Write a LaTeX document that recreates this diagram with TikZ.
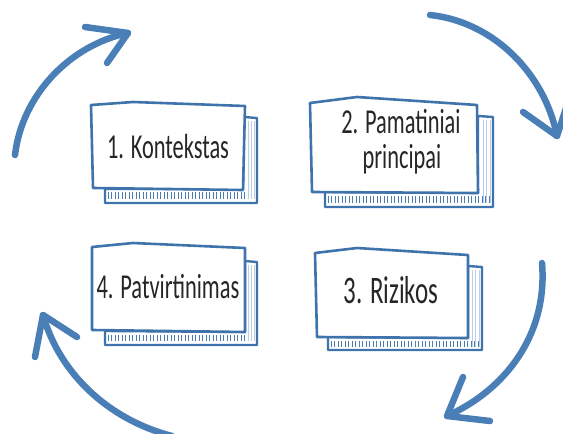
\documentclass[tikz,border=0pt]{standalone}
\usepackage{fontspec}
\newfontfamily\cardfont{Carlito}[FakeStretch=0.64]
\definecolor{cardblue}{HTML}{3F73AC}
\definecolor{arrowblue}{HTML}{4A7EB6}
\definecolor{hatchblue}{HTML}{4C7BB2}
\definecolor{pageblue}{HTML}{B9CFE6}
\tikzset{
  frontcard/.style={draw=cardblue, line width=2.6pt, fill=white, line join=round},
  backcard/.style={draw=cardblue, line width=2.4pt, fill=white, line join=round},
  hatchtick/.style={draw=hatchblue, line width=1pt},
  pageline/.style={draw=pageblue, line width=0.8pt},
  cycarrow/.style={draw=arrowblue, line width=6.5pt, line cap=round, line join=round},
  cardtext/.style={font=\cardfont\fontsize{35}{36}\selectfont, text=black!85, align=center, inner sep=0pt},
  bigtext/.style={font=\cardfont\fontsize{39}{40}\selectfont, text=black!85, align=center, inner sep=0pt},
}
\begin{document}
\begin{tikzpicture}[x=1pt,y=-1pt]
\useasboundingbox (0,0) rectangle (563,434);

% ---------- card 1 ----------
\draw[backcard] (105,189) -- (105,203) -- (257,203) -- (257,118) -- (244,117) -- (243,189) -- cycle;
\foreach \x in {108,111.5,...,254} \draw[hatchtick] (\x,192) -- (\x,199);
\foreach \x in {248,251,254} \draw[pageline] (\x,121) -- (\x,199);
\draw[frontcard] (91,105) -- (133,102) -- (245,106) -- (243,190) -- (93,188) -- cycle;
\node[cardtext, anchor=base] (k1) at (168,158) {1. Kontekstas};

% ---------- card 2 ----------
\draw[backcard] (325,192) -- (325,207) -- (493,207) -- (493,117) -- (478,116) -- (478,193) -- cycle;
\foreach \x in {328,331.5,...,490} \draw[hatchtick] (\x,196) -- (\x,203);
\foreach \x in {483,486.5,490} \draw[pageline] (\x,120) -- (\x,203);
\draw[frontcard] (310,103) -- (357,97) -- (477,105) -- (478,193) -- (312,192) -- cycle;
\node[cardtext, anchor=base] (k2a) at (401,133) {2. Pamatiniai};
\node[cardtext, anchor=base] (k2b) at (402,168) {principai};

% ---------- card 3 ----------
\draw[backcard] (328,337) -- (328,350) -- (482,350) -- (482,267) -- (468,266) -- (468,338) -- cycle;
\foreach \x in {331,334.5,...,479} \draw[hatchtick] (\x,341) -- (\x,347);
\foreach \x in {472,475.5,479} \draw[pageline] (\x,270) -- (\x,347);
\draw[frontcard] (315,253) -- (357,248) -- (468,255) -- (468,338) -- (317,337) -- cycle;
\node[bigtext, anchor=base] (k3) at (391,303) {3. Rizikos};

% ---------- card 4 ----------
\draw[backcard] (105,331) -- (105,345) -- (257,345) -- (257,262) -- (245,261) -- (245,332) -- cycle;
\foreach \x in {108,111.5,...,254} \draw[hatchtick] (\x,335) -- (\x,341);
\foreach \x in {248,251,254} \draw[pageline] (\x,265) -- (\x,341);
\draw[frontcard] (92,247) -- (133,243) -- (245,248) -- (245,332) -- (92,330) -- cycle;
\node[cardtext, anchor=base] (k4) at (168,298) {4. Patvirtinimas};

% ---------- cycle arrows ----------
\coordinate (a1s) at (15,155);  \coordinate (a1t) at (128,33);
\coordinate (a1w) at (85,27);   \coordinate (a1v) at (107,63);
\draw[cycarrow] (a1s) .. controls (22,95) and (70,45) .. (a1t);
\draw[cycarrow] (a1w) -- (a1t) -- (a1v);

\coordinate (a2s) at (430,15);  \coordinate (a2t) at (557,136);
\coordinate (a2w) at (523,112); \coordinate (a2v) at (568,102);
\draw[cycarrow] (a2s) .. controls (495,22) and (545,75) .. (a2t);
\draw[cycarrow] (a2w) -- (a2t) -- (a2v);

\coordinate (a3s) at (542,263); \coordinate (a3t) at (447,416);
\coordinate (a3w) at (463,377); \coordinate (a3v) at (490,421);
\draw[cycarrow] (a3s) .. controls (548,335) and (505,390) .. (a3t);
\draw[cycarrow] (a3w) -- (a3t) -- (a3v);

\coordinate (a4s) at (172,436); \coordinate (a4t) at (43,315);
\coordinate (a4w) at (35,357);  \coordinate (a4v) at (77,337);
\draw[cycarrow] (a4s) .. controls (110,420) and (60,375) .. (a4t);
\draw[cycarrow] (a4w) -- (a4t) -- (a4v);
\end{tikzpicture}
\end{document}
